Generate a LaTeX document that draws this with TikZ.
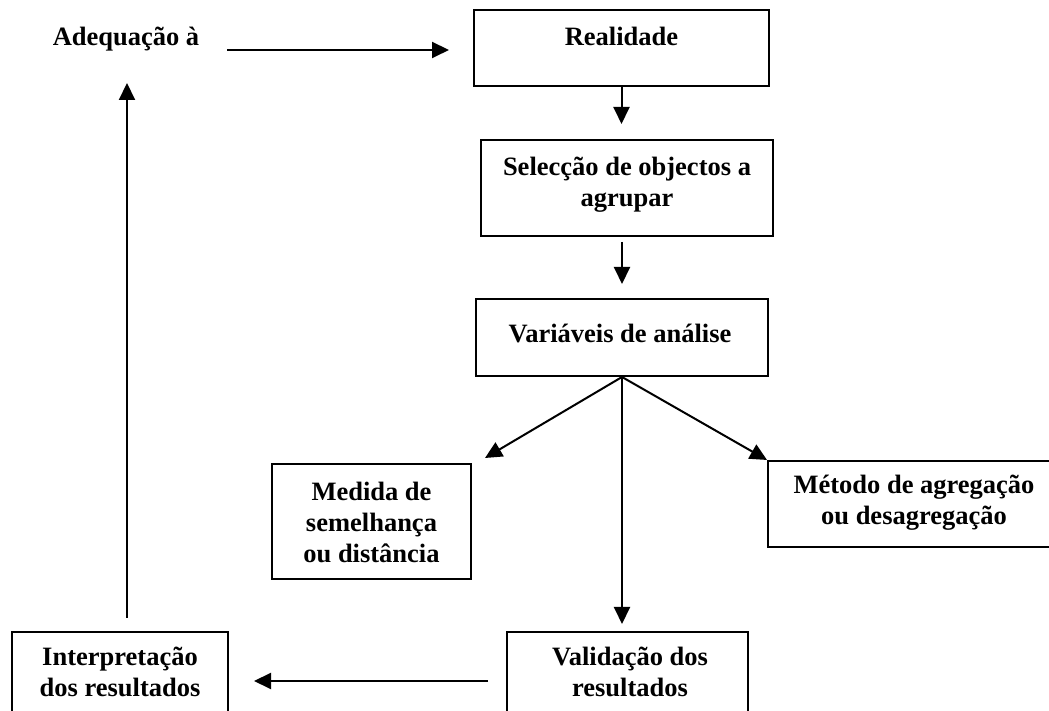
\documentclass[tikz,border=0pt]{standalone}
\usepackage{fontspec}
\setmainfont{Liberation Serif}
\usetikzlibrary{arrows.meta,calc}
\begin{document}
\begin{tikzpicture}[x=1pt,y=1pt,
  box/.style={draw, line width=2pt, inner sep=0pt},
  lbl/.style={font=\bfseries\fontsize{26.5}{31}\selectfont, align=center, inner sep=0pt, anchor=base},
  arr/.style={line width=2pt, -{Triangle[width=16pt,length=17pt]}}]
\useasboundingbox (0,0) rectangle (1049,711);
\clip (0,0) rectangle (1049,711);
% boxes
\node[box, minimum width=295pt, minimum height=76pt] (real) at (621.5,663) {};
\node[box, minimum width=292pt, minimum height=96pt] (sel) at (627,523) {};
\node[box, minimum width=292pt, minimum height=77pt] (var) at (622,373.5) {};
\node[box, minimum width=199pt, minimum height=115pt] (med) at (371.5,189.5) {};
\node[box, minimum width=292pt, minimum height=86pt] (met) at (914,207) {};
\node[box, minimum width=216pt, minimum height=88pt] (interp) at (120,35) {};
\node[box, minimum width=241pt, minimum height=88pt] (val) at (627.5,35) {};
% texts (anchored at the baseline of the last line)
\node[lbl] (adeq) at (126,665) {Adequação à};
\node[lbl] (treal) at (621.5,665) {Realidade};
\node[lbl] (tsel) at (627,504) {Selecção de objectos a\\agrupar};
\node[lbl] (tvar) at (620,368) {Variáveis de análise};
\node[lbl] (tmed) at (371.5,148) {Medida de\\semelhança\\ou distância};
\node[lbl] (tmet) at (914,186) {Método de agregação\\ou desagregação};
\node[lbl] (tint) at (120,14) {Interpretação\\dos resultados};
\node[lbl] (tval) at (630,14) {Validação dos\\resultados};
% connectors
\draw[arr] ($(adeq.base east)+(28,-4)$) -- ($(real.west)+(-24,-2)$);
\draw[arr] (real.south) -- (real.south |- {$(sel.north)+(0,15)$});
\draw[arr] ($(sel.south)+(-5,-5)$) -- ($(var.north)+(0,14)$);
\draw[arr] (var.south) -- ($(med.north east)+(13,5)$);
\draw[arr] (var.south) -- (met.north west);
\draw[arr] (var.south) -- (var.south |- {$(val.north)+(0,7)$});
\draw[arr] ($(val.west)+(-18,-5)$) -- ($(interp.east)+(25,-5)$);
\draw[arr] ($(interp.north)+(7,13)$) -- ($(adeq.base)+(1,-37)$);
\end{tikzpicture}
\end{document}
